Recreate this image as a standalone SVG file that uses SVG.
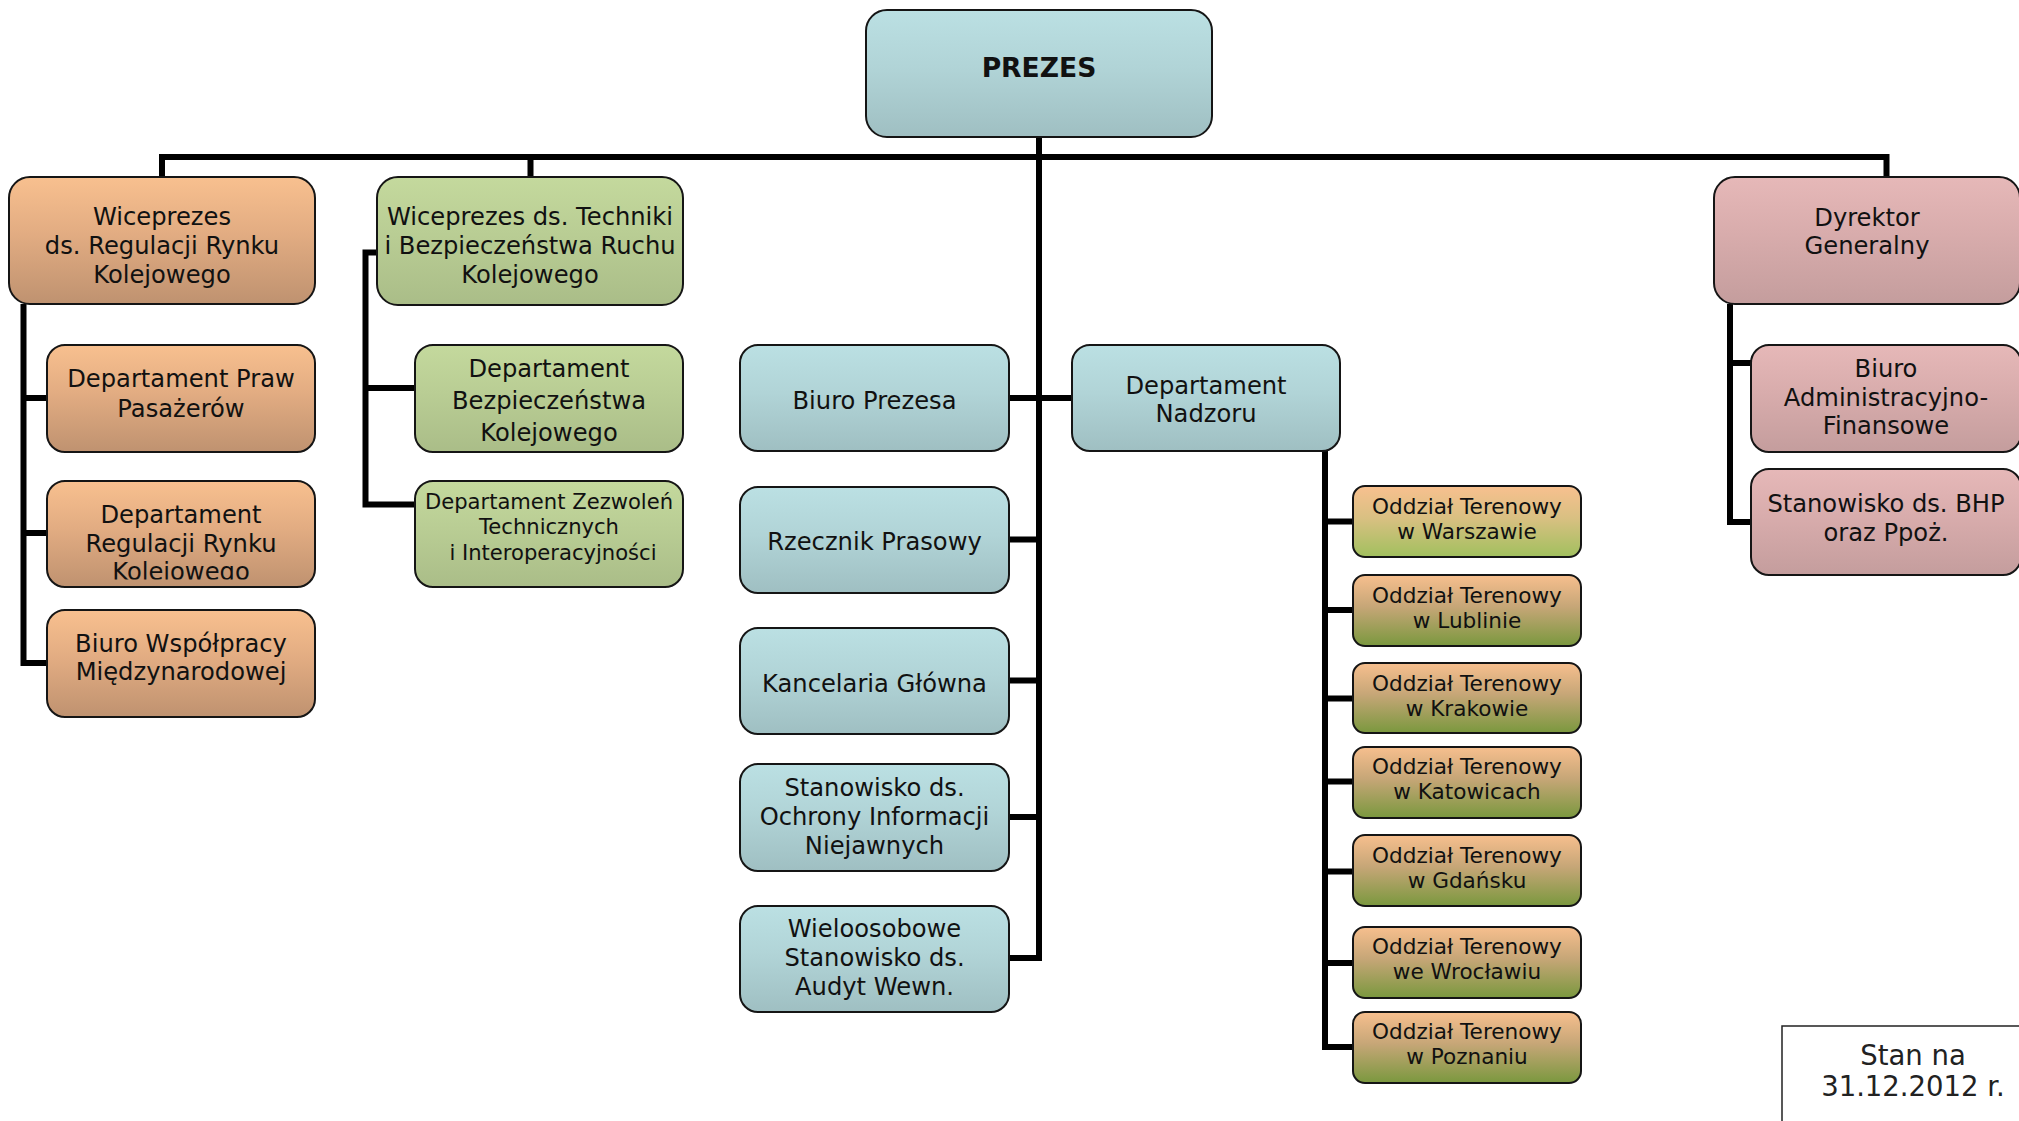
<svg xmlns="http://www.w3.org/2000/svg" width="2019" height="1121" viewBox="0 0 2019 1121">
<defs>
<linearGradient id="gBlue" x1="0" y1="0" x2="0" y2="1"><stop offset="0" stop-color="#BBE0E3"/><stop offset="0.45" stop-color="#B1D4D7"/><stop offset="1" stop-color="#9FBFC2"/></linearGradient>
<linearGradient id="gOrange" x1="0" y1="0" x2="0" y2="1"><stop offset="0" stop-color="#F8C08F"/><stop offset="0.45" stop-color="#E2AC82"/><stop offset="1" stop-color="#BF9270"/></linearGradient>
<linearGradient id="gGreen" x1="0" y1="0" x2="0" y2="1"><stop offset="0" stop-color="#C4D99D"/><stop offset="0.45" stop-color="#B9CD94"/><stop offset="1" stop-color="#AABD88"/></linearGradient>
<linearGradient id="gPink" x1="0" y1="0" x2="0" y2="1"><stop offset="0" stop-color="#E6B8B8"/><stop offset="0.45" stop-color="#D8ACAC"/><stop offset="1" stop-color="#C49D9D"/></linearGradient>
<linearGradient id="gOdzW" x1="0" y1="0" x2="0" y2="1"><stop offset="0" stop-color="#F8C08F"/><stop offset="0.45" stop-color="#D9C082"/><stop offset="1" stop-color="#A1C05E"/></linearGradient>
<linearGradient id="gOdz" x1="0" y1="0" x2="0" y2="1"><stop offset="0" stop-color="#F7BF8E"/><stop offset="0.45" stop-color="#C6A677"/><stop offset="1" stop-color="#7A983E"/></linearGradient>
<clipPath id="clipReg"><rect x="40" y="470" width="290" height="109.5"/></clipPath>
</defs>
<style>
.box{stroke:#151515;stroke-width:2}
.t{font-family:"DejaVu Sans","Verdana",sans-serif;font-size:24.2px;fill:#111;text-anchor:middle}
.ts{font-size:21.6px}
.tz{font-size:21.1px}
.tb{font-weight:bold;font-size:26.6px}
.tn{font-size:27.5px;fill:#222}
.con{fill:none;stroke:#000;stroke-width:6;stroke-linejoin:miter}
</style>
<rect width="2019" height="1121" fill="#fff"/>

<g id="connectors">
<path class="con" d="M162,177 V157 H1886.5 V177 M530.5,157 V177"/>
<path class="con" d="M1039,137 V958 H1009"/>
<path class="con" d="M1009,398 H1072 M1009,539.5 H1039 M1009,680.5 H1039 M1009,817 H1039"/>
<path class="con" d="M23.5,304 V663 H47 M23.5,398 H47 M23.5,533 H47"/>
<path class="con" d="M377,252.5 H365.5 V504.5 H415 M365.5,388 H415"/>
<path class="con" d="M1325,451 V1047 H1353 M1325,521.5 H1353 M1325,610 H1353 M1325,698.5 H1353 M1325,781.5 H1353 M1325,871.5 H1353 M1325,963 H1353"/>
<path class="con" d="M1730,304 V522 H1751 M1730,363 H1751"/>
</g>

<g id="prezes"><rect class="box" x="866" y="10" width="346" height="127" rx="21" fill="url(#gBlue)"/><text class="t tb" x="1039" y="76.5">PREZES</text></g>

<g id="wiceprezes-rynek"><rect class="box" x="9" y="177" width="306" height="127" rx="21" fill="url(#gOrange)"/>
<text class="t" x="162" y="224.5">Wiceprezes</text><text class="t" x="162" y="253.5">ds. Regulacji Rynku</text><text class="t" x="162" y="282.5">Kolejowego</text></g>

<g id="wiceprezes-technika"><rect class="box" x="377" y="177" width="306" height="128" rx="21" fill="url(#gGreen)"/>
<text class="t" x="530" y="224.5">Wiceprezes ds. Techniki</text><text class="t" x="530" y="253.5">i Bezpieczeństwa Ruchu</text><text class="t" x="530" y="282.5">Kolejowego</text></g>

<g id="dyrektor"><rect class="box" x="1714" y="177" width="306" height="127" rx="21" fill="url(#gPink)"/>
<text class="t" x="1867" y="225.5">Dyrektor</text><text class="t" x="1867" y="254">Generalny</text></g>

<g id="dep-praw"><rect class="box" x="47" y="345" width="268" height="107" rx="18" fill="url(#gOrange)"/>
<text class="t" x="181" y="386.5">Departament Praw</text><text class="t" x="181" y="416.5">Pasażerów</text></g>

<g id="dep-regulacji"><rect class="box" x="47" y="481" width="268" height="106" rx="18" fill="url(#gOrange)"/>
<text class="t" x="181" y="523">Departament</text><text class="t" x="181" y="551.5">Regulacji Rynku</text><text class="t" x="181" y="579.5" clip-path="url(#clipReg)">Kolejowego</text></g>

<g id="biuro-wspolpracy"><rect class="box" x="47" y="610" width="268" height="107" rx="18" fill="url(#gOrange)"/>
<text class="t" x="181" y="651.5">Biuro Współpracy</text><text class="t" x="181" y="679.5">Międzynarodowej</text></g>

<g id="dep-bezpieczenstwa"><rect class="box" x="415" y="345" width="268" height="107" rx="18" fill="url(#gGreen)"/>
<text class="t" x="549" y="376.5">Departament</text><text class="t" x="549" y="408.5">Bezpieczeństwa</text><text class="t" x="549" y="440.5">Kolejowego</text></g>

<g id="dep-zezwolen"><rect class="box" x="415" y="481" width="268" height="106" rx="18" fill="url(#gGreen)"/>
<text class="t tz" x="549" y="509">Departament Zezwoleń</text><text class="t tz" x="549" y="534">Technicznych</text><text class="t tz" x="553" y="560">i Interoperacyjności</text></g>

<g id="biuro-prezesa"><rect class="box" x="740" y="345" width="269" height="106" rx="18" fill="url(#gBlue)"/>
<text class="t" x="874.5" y="408.5">Biuro Prezesa</text></g>

<g id="dep-nadzoru"><rect class="box" x="1072" y="345" width="268" height="106" rx="18" fill="url(#gBlue)"/>
<text class="t" x="1206" y="393.5">Departament</text><text class="t" x="1206" y="421.5">Nadzoru</text></g>

<g id="rzecznik"><rect class="box" x="740" y="487" width="269" height="106" rx="18" fill="url(#gBlue)"/>
<text class="t" x="874.5" y="549.5">Rzecznik Prasowy</text></g>

<g id="kancelaria"><rect class="box" x="740" y="628" width="269" height="106" rx="18" fill="url(#gBlue)"/>
<text class="t" x="874.5" y="691.5">Kancelaria Główna</text></g>

<g id="ochrona-informacji"><rect class="box" x="740" y="764" width="269" height="107" rx="18" fill="url(#gBlue)"/>
<text class="t" x="874.5" y="795.5">Stanowisko ds.</text><text class="t" x="874.5" y="824.5">Ochrony Informacji</text><text class="t" x="874.5" y="853.5">Niejawnych</text></g>

<g id="audyt"><rect class="box" x="740" y="906" width="269" height="106" rx="18" fill="url(#gBlue)"/>
<text class="t" x="874.5" y="936.5">Wieloosobowe</text><text class="t" x="874.5" y="966">Stanowisko ds.</text><text class="t" x="874.5" y="994.5">Audyt Wewn.</text></g>

<g id="biuro-admin"><rect class="box" x="1751" y="345" width="270" height="107" rx="18" fill="url(#gPink)"/>
<text class="t" x="1886" y="376.5">Biuro</text><text class="t" x="1886" y="405.5">Administracyjno-</text><text class="t" x="1886" y="434">Finansowe</text></g>

<g id="bhp"><rect class="box" x="1751" y="469" width="270" height="106" rx="18" fill="url(#gPink)"/>
<text class="t" x="1886" y="511.5">Stanowisko ds. BHP</text><text class="t" x="1886" y="541">oraz Ppoż.</text></g>

<g id="ot-warszawa"><rect class="box" x="1353" y="486" width="228" height="71" rx="12" fill="url(#gOdzW)"/>
<text class="t ts" x="1467" y="514">Oddział Terenowy</text><text class="t ts" x="1467" y="539">w Warszawie</text></g>
<g id="ot-lublin"><rect class="box" x="1353" y="575" width="228" height="71" rx="12" fill="url(#gOdz)"/>
<text class="t ts" x="1467" y="603">Oddział Terenowy</text><text class="t ts" x="1467" y="628">w Lublinie</text></g>
<g id="ot-krakow"><rect class="box" x="1353" y="663" width="228" height="70" rx="12" fill="url(#gOdz)"/>
<text class="t ts" x="1467" y="691">Oddział Terenowy</text><text class="t ts" x="1467" y="716">w Krakowie</text></g>
<g id="ot-katowice"><rect class="box" x="1353" y="747" width="228" height="71" rx="12" fill="url(#gOdz)"/>
<text class="t ts" x="1467" y="774">Oddział Terenowy</text><text class="t ts" x="1467" y="799">w Katowicach</text></g>
<g id="ot-gdansk"><rect class="box" x="1353" y="835" width="228" height="71" rx="12" fill="url(#gOdz)"/>
<text class="t ts" x="1467" y="863">Oddział Terenowy</text><text class="t ts" x="1467" y="888">w Gdańsku</text></g>
<g id="ot-wroclaw"><rect class="box" x="1353" y="927" width="228" height="71" rx="12" fill="url(#gOdz)"/>
<text class="t ts" x="1467" y="954">Oddział Terenowy</text><text class="t ts" x="1467" y="979">we Wrocławiu</text></g>
<g id="ot-poznan"><rect class="box" x="1353" y="1012" width="228" height="71" rx="12" fill="url(#gOdz)"/>
<text class="t ts" x="1467" y="1039">Oddział Terenowy</text><text class="t ts" x="1467" y="1064">w Poznaniu</text></g>

<g id="stan-na"><rect x="1782" y="1026" width="300" height="200" fill="#fff" stroke="#222" stroke-width="1.5"/>
<text class="t tn" x="1913" y="1065">Stan na</text><text class="t tn" x="1913" y="1096">31.12.2012 r.</text></g>
</svg>
